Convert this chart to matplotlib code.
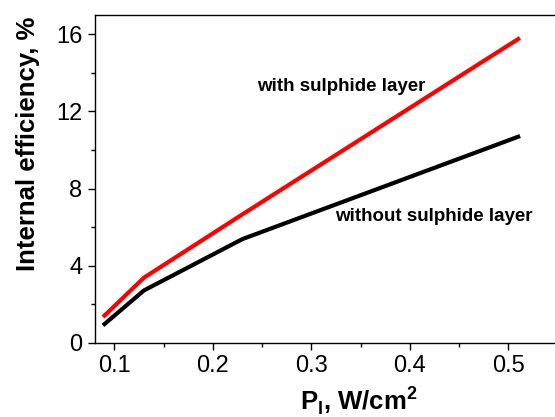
import numpy as np
import matplotlib.pyplot as plt
from matplotlib.ticker import MultipleLocator

plt.rcParams['font.family'] = ['Liberation Sans', 'DejaVu Sans']
plt.rcParams['mathtext.fontset'] = 'custom'
plt.rcParams['mathtext.rm'] = 'Liberation Sans'
plt.rcParams['mathtext.bf'] = 'Liberation Sans:bold'

# datos
p_with = [0.09, 0.13, 0.23, 0.51]
eff_with = [1.42, 3.38, 6.66, 15.74]
p_without = [0.09, 0.13, 0.23, 0.51]
eff_without = [0.98, 2.72, 5.38, 10.68]

fig = plt.figure(figsize=(5.55, 4.17), dpi=100)
ax = fig.add_axes([0.1706, 0.1775, 0.834, 0.7872])

ax.plot(p_with, eff_with, color='#ff0000', lw=3)
ax.plot(p_without, eff_without, color='black', lw=3)

# etiquetas de las curvas
ax.text(0.330, 13.3, 'with sulphide layer', ha='center', va='center',
        fontsize=13.5, fontweight='bold')
ax.text(0.424, 6.53, 'without sulphide layer', ha='center', va='center',
        fontsize=13.5, fontweight='bold')

ax.set_xlim(0.08, 0.55)
ax.set_ylim(0, 17)
ax.xaxis.set_major_locator(MultipleLocator(0.1))
ax.xaxis.set_minor_locator(MultipleLocator(0.05))
ax.yaxis.set_major_locator(MultipleLocator(4))
ax.yaxis.set_minor_locator(MultipleLocator(2))
ax.xaxis.set_major_formatter(plt.FuncFormatter(lambda v, p: f'{v:.1f}'))
ax.tick_params(which='major', direction='out', length=5, width=1, labelsize=17, pad=4)
ax.tick_params(which='minor', direction='out', length=3, width=1)
ax.spines['right'].set_visible(False)
for s in ['left', 'top', 'bottom']:
    ax.spines[s].set_linewidth(1)

# ejes
fig.text(359 / 555, 1 - 410 / 417, r'P$_\mathbf{l}$, W/cm$^\mathbf{2}$',
         fontsize=18.5, fontweight='bold', ha='center', va='baseline')
fig.text(28 / 555, 1 - 144 / 417, 'Internal efficiency, %', rotation=90,
         fontsize=18.5, fontweight='bold', ha='center', va='center')

fig.savefig('out.png', dpi=100)
